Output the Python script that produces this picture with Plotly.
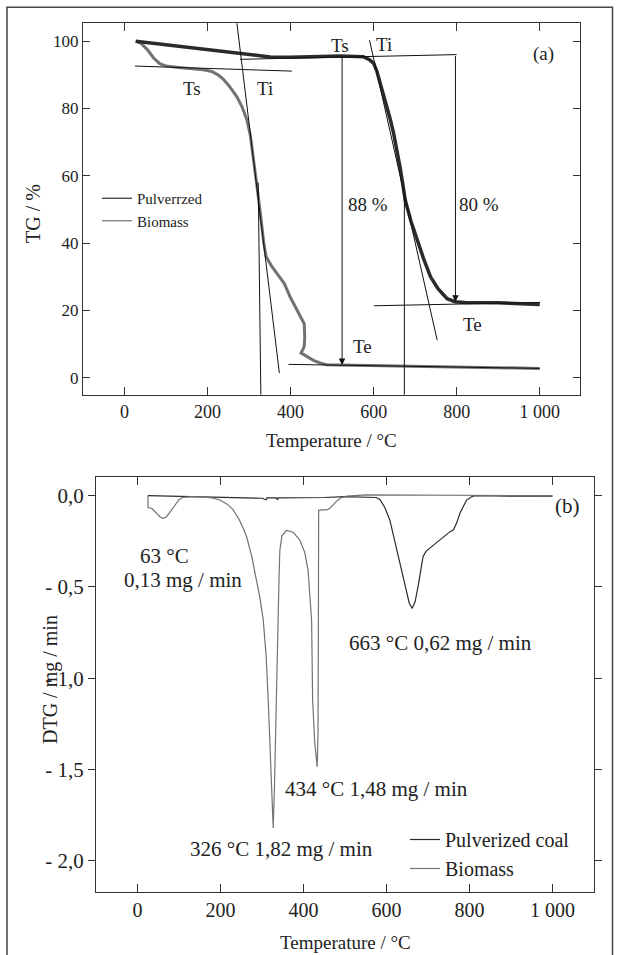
import plotly.graph_objects as go

# ---------------- data: (a) TG curves ----------------
bio_tg_T = [27, 40, 55, 70, 85, 100, 130, 160, 190, 210, 225, 237, 250, 262, 271, 283, 295, 303, 310, 316,
            321, 326, 331, 336, 341, 355, 370, 385, 399, 412, 424, 430, 433, 434, 433, 430, 425, 440, 455,
            471, 487, 520, 600, 700, 800, 900, 1000]
bio_tg_G = [100, 99.3, 97.5, 95, 93.3, 92.6, 92.2, 91.9, 91.5, 91, 90, 88.8, 87, 85, 83.4, 80.5, 76.5, 72, 66, 60,
            55, 50, 44.5, 39.5, 36, 33, 30.5, 28, 24, 21, 18.5, 17, 16, 12, 9.5, 8.5, 7.4, 6.3, 5.2,
            4.4, 3.9, 3.8, 3.6, 3.4, 3.2, 3.0, 2.8]

coal_tg_T = [27, 100, 200, 278, 351, 400, 450, 520, 575, 590, 600, 608, 616, 624, 632, 640, 648, 656, 664, 670,
             676, 690, 705, 720, 737, 755, 777, 796, 820, 900, 1000]
coal_tg_G = [100, 98.9, 97.5, 96.3, 95.3, 95.2, 95.3, 95.6, 95.4, 94.5, 93.4, 91, 87.4, 84, 80.5, 76.8, 72.7, 67.8, 62.3, 57.7,
             52.8, 46.5, 40.9, 35.5, 30, 26.5, 23.5, 22.6, 22.4, 22.3, 21.8]

# construction lines in (a): start/end temperature and TG
seg_T0 = [25, 270, 322, 278, 590, 674, 601, 395]
seg_T1 = [403, 373, 328.3, 800, 753, 674, 1001, 1000]
seg_G0 = [92.6, 106, 58, 94.6, 100.3, 54, 21.4, 4.0]
seg_G1 = [91.1, 1.4, -5, 96, 11.2, -5, 22.4, 2.8]

# mass-loss arrows in (a)
arrow_T = [524, 797]
arrow_from = [95.6, 96]
arrow_to = [3.8, 22.6]

# labels in (a)
lab_a_text = ["Ts", "Ti", "Ts", "Ti", "(a)", "88 %", "80 %", "Te", "Te"]
lab_a_T = [162, 338, 520, 624, 1010, 586, 854, 838, 572]
lab_a_G = [86, 86, 98.8, 99, 96.3, 51.6, 51.6, 15.9, 9.2]

# ---------------- data: (b) DTG curves ----------------
bio_dtg_T = [25, 25.5, 35, 45, 55, 62, 70, 80, 90, 100, 110, 130, 160, 182, 200, 215, 230, 245, 255, 263,
             275, 287, 295, 303, 310, 315, 321, 324, 327, 330, 334, 337, 339, 341, 343, 348, 359, 375, 391,
             403, 411, 416, 419.5, 422, 427, 433, 435, 436, 436.5, 445, 456, 463, 471, 480, 490, 504, 550,
             600, 700, 800, 900, 1000]
bio_dtg_V = [0, -0.065, -0.07, -0.095, -0.118, -0.124, -0.115, -0.085, -0.05, -0.022, -0.009, -0.005, -0.006,
             -0.013, -0.025, -0.045, -0.075, -0.13, -0.18, -0.225, -0.33, -0.46, -0.56, -0.68, -0.88, -1.12,
             -1.48, -1.68, -1.82, -1.6, -1.12, -0.85, -0.68, -0.45, -0.30, -0.22, -0.19, -0.2, -0.243, -0.31,
             -0.41, -0.55, -0.68, -1.12, -1.35, -1.485, -1.3, -0.6, -0.08, -0.078, -0.078, -0.07, -0.051,
             -0.03, -0.012, -0.002, 0.004, 0.004, 0.003, 0.002, 0.0, 0.0]

coal_dtg_T = [25, 100, 200, 300, 310, 312, 335, 337, 339, 400, 450, 500, 560, 575, 584, 596, 608, 620, 632, 640,
              648, 655, 662, 669, 676, 682, 688, 695, 704, 718, 733, 745, 753, 761, 769, 777, 785, 793, 805,
              813, 900, 1000]
coal_dtg_V = [0, -0.004, -0.01, -0.014, -0.022, -0.012, -0.012, -0.022, -0.012, -0.012, -0.01, -0.005, -0.006,
              -0.01, -0.02, -0.065, -0.133, -0.25, -0.37, -0.46, -0.535, -0.59, -0.617, -0.58, -0.498, -0.41,
              -0.334, -0.305, -0.288, -0.26, -0.233, -0.21, -0.197, -0.188, -0.15, -0.096, -0.055, -0.024,
              -0.006, 0, -0.002, -0.003]

lab_b_text = ["63 °C", "0,13 mg / min", "663 °C 0,62 mg / min", "434 °C 1,48 mg / min",
              "326 °C 1,82 mg / min", "(b)"]
lab_b_T = [64, 110, 731, 577, 348, 1037]
lab_b_V = [-0.33, -0.462, -0.808, -1.606, -1.936, -0.055]

x_ticks = [0, 200, 400, 600, 800, 1000]
x_ticktext = ["0", "200", "400", "600", "800", "1 000"]
tg_ticks = [0, 20, 40, 60, 80, 100]
dtg_ticks = [0.0, -0.5, -1.0, -1.5, -2.0]
dtg_ticktext = ["0,0", "- 0,5", "- 1,0", "- 1,5", "- 2,0"]

# ---------------- figure ----------------
W, H = 619, 955
FONT = "Liberation Serif, Times New Roman, serif"
INK = "#222222"
DARK = "#2b2b2b"
GRAY = "#727272"

fig = go.Figure()

# (a)
fig.add_trace(go.Scatter(x=bio_tg_T, y=bio_tg_G, mode="lines", line=dict(color=GRAY, width=3),
                         showlegend=False, xaxis="x", yaxis="y"))
fig.add_trace(go.Scatter(x=coal_tg_T, y=coal_tg_G, mode="lines", line=dict(color=DARK, width=3.5),
                         showlegend=False, xaxis="x", yaxis="y"))
sx, sy = [], []
for a, b, c, d in zip(seg_T0, seg_T1, seg_G0, seg_G1):
    sx += [a, b, None]
    sy += [c, d, None]
fig.add_trace(go.Scatter(x=sx, y=sy, mode="lines", line=dict(color="#111111", width=1),
                         showlegend=False, xaxis="x", yaxis="y"))
# legend entries (a)
fig.add_trace(go.Scatter(x=[None], y=[None], mode="lines", name="Pulverrzed",
                         line=dict(color=DARK, width=1.2), legend="legend", xaxis="x", yaxis="y"))
fig.add_trace(go.Scatter(x=[None], y=[None], mode="lines", name="Biomass",
                         line=dict(color=GRAY, width=1.2), legend="legend", xaxis="x", yaxis="y"))

# (b)
fig.add_trace(go.Scatter(x=coal_dtg_T, y=coal_dtg_V, mode="lines", name="Pulverized coal",
                         line=dict(color=DARK, width=1.2), legend="legend2", xaxis="x2", yaxis="y2"))
fig.add_trace(go.Scatter(x=bio_dtg_T, y=bio_dtg_V, mode="lines", name="Biomass",
                         line=dict(color=GRAY, width=1.2), legend="legend2", xaxis="x2", yaxis="y2"))

ann = []
for t, g0, g1 in zip(arrow_T, arrow_from, arrow_to):
    ann.append(dict(x=t, y=g1, ax=t, ay=g0, xref="x", yref="y", axref="x", ayref="y", text="",
                    showarrow=True, arrowhead=2, arrowsize=1.3, arrowwidth=1, arrowcolor="#111111"))
for s, t, g in zip(lab_a_text, lab_a_T, lab_a_G):
    ann.append(dict(x=t, y=g, xref="x", yref="y", text=s, showarrow=False, xanchor="center",
                    yanchor="middle", font=dict(family=FONT, size=19, color=INK)))
for s, t, v in zip(lab_b_text, lab_b_T, lab_b_V):
    ann.append(dict(x=t, y=v, xref="x2", yref="y2", text=s, showarrow=False, xanchor="center",
                    yanchor="middle", font=dict(family=FONT, size=21, color=INK)))


def paper_x(px):
    return px / W


def paper_y(py):
    return 1 - py / H


# axis titles
titles = [("Temperature / °C", 331, 440, 0, 19),
          ("TG / %", 33, 214, -90, 20),
          ("Temperature / °C", 345, 942, 0, 19),
          ("DTG / mg / min", 50, 680, -90, 20)]
for s, px, py, ang, fs in titles:
    ann.append(dict(x=paper_x(px), y=paper_y(py), xref="paper", yref="paper", text=s, textangle=ang,
                    xanchor="center", yanchor="middle", showarrow=False,
                    font=dict(family=FONT, size=fs, color=INK)))

axis_common = dict(showline=True, linecolor="#333333", linewidth=1.3, mirror="ticks", showgrid=False,
                   zeroline=False, tickcolor="#333333", tickwidth=1, color=INK)

fig.update_layout(
    width=W, height=H, margin=dict(l=0, r=0, t=0, b=0),
    paper_bgcolor="white", plot_bgcolor="white",
    font=dict(family=FONT, color=INK),
    xaxis=dict(domain=[paper_x(83), paper_x(580)], range=[-100, 1097], anchor="y",
               tickvals=x_ticks, ticktext=x_ticktext, ticks="inside", ticklen=8,
               tickfont=dict(family=FONT, size=18), **axis_common),
    yaxis=dict(domain=[paper_y(395), paper_y(23.3)], range=[-5.1, 105.3], anchor="x",
               tickvals=tg_ticks, ticks="inside", ticklen=7,
               tickfont=dict(family=FONT, size=17), **axis_common),
    xaxis2=dict(domain=[paper_x(96), paper_x(594)], range=[-100, 1100], anchor="y2",
                tickvals=x_ticks, ticktext=x_ticktext, ticks="inside", ticklen=8,
                tickfont=dict(family=FONT, size=20), **axis_common),
    yaxis2=dict(domain=[paper_y(892.3), paper_y(476.7)], range=[-2.172, 0.104], anchor="x2",
                tickvals=dtg_ticks, ticktext=dtg_ticktext, ticks="outside", ticklen=7,
                tickfont=dict(family=FONT, size=21), **axis_common),
    legend=dict(x=paper_x(97), y=paper_y(182), xanchor="left", yanchor="top",
                bgcolor="rgba(0,0,0,0)", font=dict(family=FONT, size=15, color=INK),
                tracegroupgap=0, itemwidth=30),
    legend2=dict(x=paper_x(405), y=paper_y(820), xanchor="left", yanchor="top",
                 bgcolor="rgba(0,0,0,0)", font=dict(family=FONT, size=20, color=INK),
                 tracegroupgap=0, itemwidth=30),
    annotations=ann,
    shapes=[dict(type="rect", xref="paper", yref="paper", x0=paper_x(7), x1=paper_x(612.5),
                 y0=-0.05, y1=paper_y(7.3), line=dict(color="#444444", width=1.5))],
)

fig.write_html("out.html")
